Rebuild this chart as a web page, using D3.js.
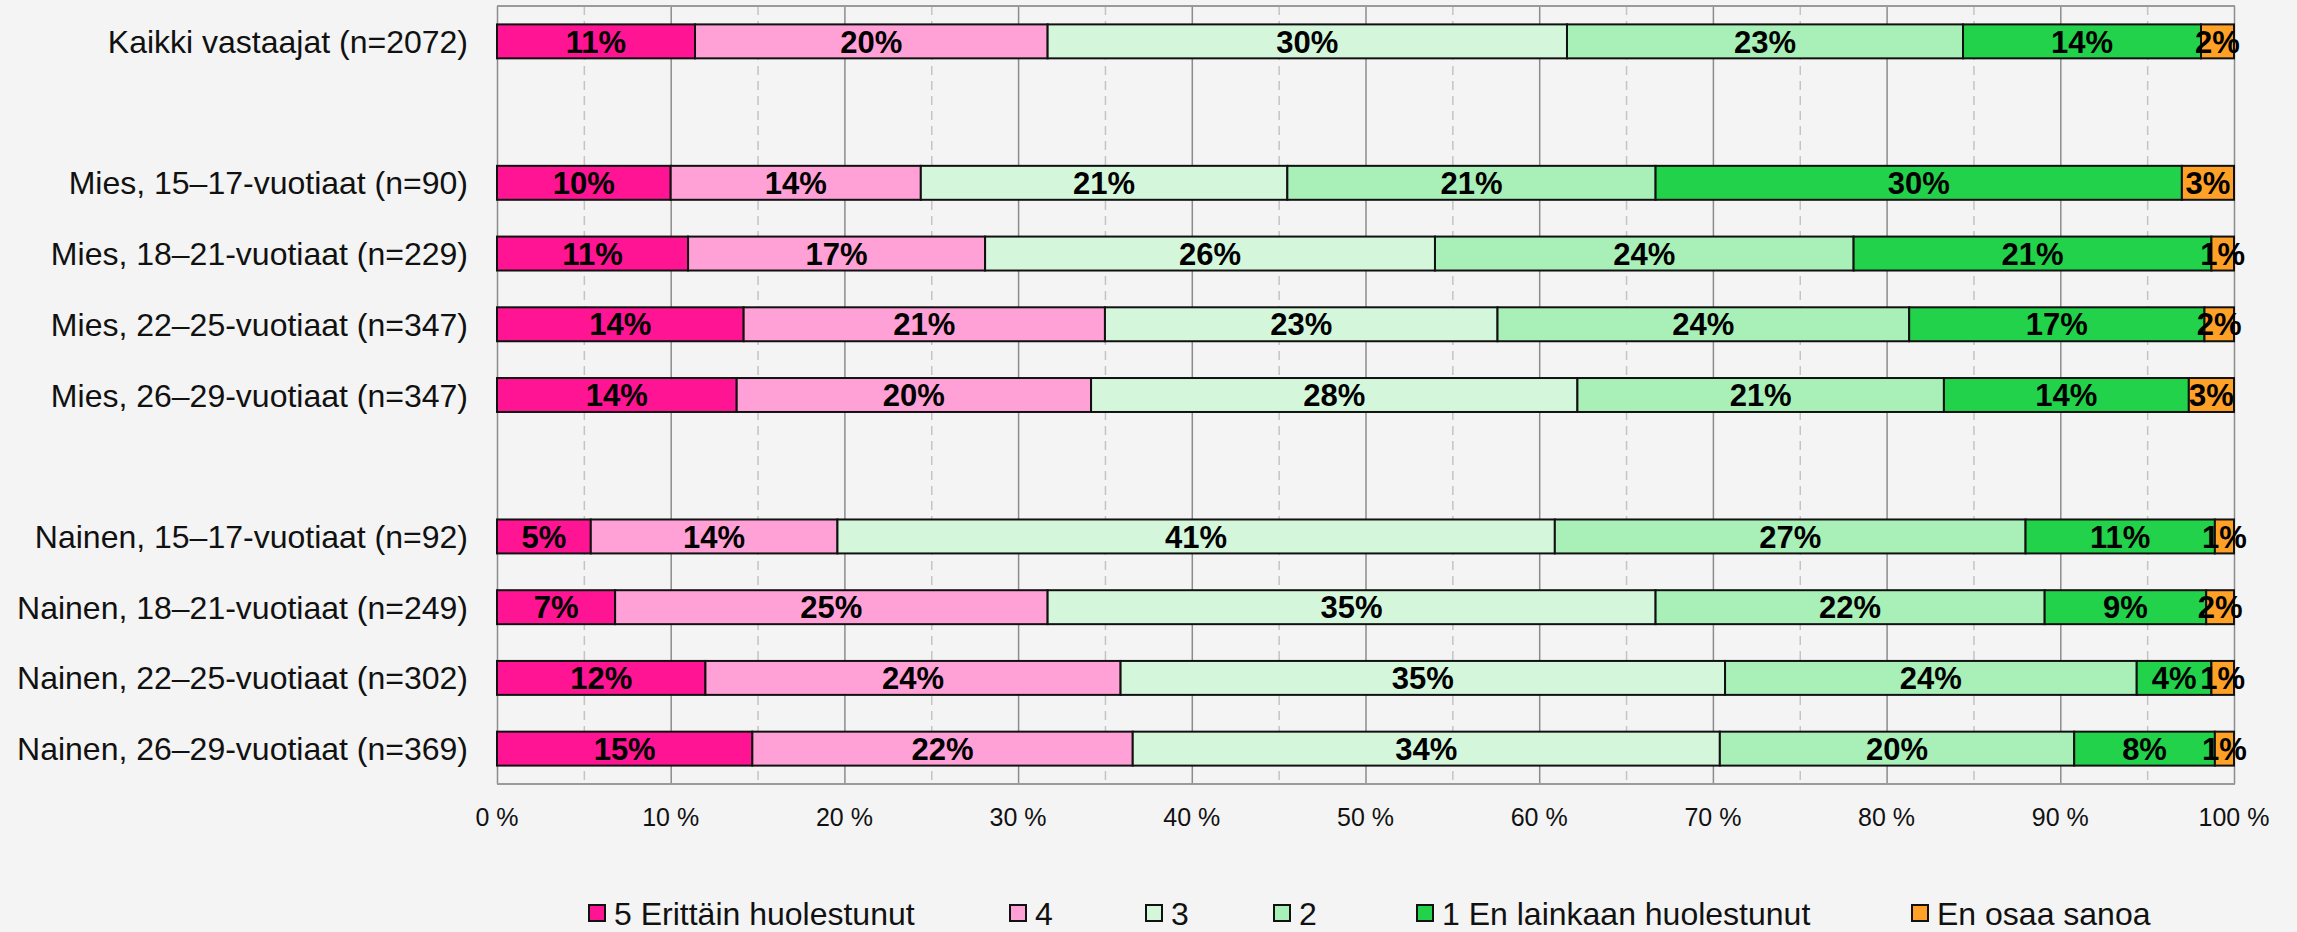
<!DOCTYPE html>
<html>
<head>
<meta charset="utf-8">
<style>
	html, body { margin: 0; padding: 0; background: #f4f4f4; }
	svg { display: block; }
	text { font-family: "Liberation Sans", Arial, sans-serif; }
</style>
</head>
<body>
<svg class="chart" width="2297" height="932"></svg>
<script src="https://d3js.org/d3.v7.min.js"></script>
<script>

// rows, top to bottom ('' = empty spacer row)
var groups = [
	'Kaikki vastaajat (n=2072)',
	'',
	'Mies, 15–17-vuotiaat (n=90)',
	'Mies, 18–21-vuotiaat (n=229)',
	'Mies, 22–25-vuotiaat (n=347)',
	'Mies, 26–29-vuotiaat (n=347)',
	' ',
	'Nainen, 15–17-vuotiaat (n=92)',
	'Nainen, 18–21-vuotiaat (n=249)',
	'Nainen, 22–25-vuotiaat (n=302)',
	'Nainen, 26–29-vuotiaat (n=369)'
]

var answers = ['5 Erittäin huolestunut', '4', '3', '2', '1 En lainkaan huolestunut', 'En osaa sanoa']
var colors = ['#ff1493', '#ffa0d6', '#d4f7dc', '#a8f0b8', '#22d24a', '#ffa126']

// shares (%) per answer, same order as answers
var kaikki    = [11.4, 20.3, 29.9, 22.8, 13.7, 1.9]
var mies1517  = [10.0, 14.4, 21.1, 21.2, 30.3, 3.0]
var mies1821  = [11.0, 17.1, 25.9, 24.1, 20.6, 1.3]
var mies2225  = [14.2, 20.8, 22.6, 23.7, 17.0, 1.7]
var mies2629  = [13.8, 20.4, 28.0, 21.1, 14.1, 2.6]
var nainen1517 = [5.4, 14.2, 41.3, 27.1, 10.9, 1.1]
var nainen1821 = [6.8, 24.9, 35.0, 22.4, 9.3, 1.6]
var nainen2225 = [12.0, 23.9, 34.8, 23.7, 4.3, 1.3]
var nainen2629 = [14.7, 21.9, 33.8, 20.4, 8.1, 1.1]

var xTicks = [0, 10, 20, 30, 40, 50, 60, 70, 80, 90, 100]

var rows = [
	{ group: groups[0], values: kaikki },
	{ group: groups[2], values: mies1517 },
	{ group: groups[3], values: mies1821 },
	{ group: groups[4], values: mies2225 },
	{ group: groups[5], values: mies2629 },
	{ group: groups[7], values: nainen1517 },
	{ group: groups[8], values: nainen1821 },
	{ group: groups[9], values: nainen2225 },
	{ group: groups[10], values: nainen2629 }
]

var cfg = {
	left: 497, right: 2234,
	top: 6, bottom: 784,
	fontSize: 32
}

var svg = d3.select('.chart')

var x = d3.scaleLinear().domain([0, 100]).range([cfg.left, cfg.right])
var y = d3.scaleBand().domain(groups).range([cfg.top, cfg.bottom]).paddingInner(0.52).paddingOuter(0.26)

// grid: dashed halves, solid tens
var halves = d3.range(5, 100, 10)
svg.append('g').selectAll('line').data(halves).enter().append('line')
	.attr('x1', function(d) { return x(d) + 0.5 }).attr('x2', function(d) { return x(d) + 0.5 })
	.attr('y1', cfg.top).attr('y2', cfg.bottom)
	.attr('stroke', '#c4c4c4').attr('stroke-width', 1.5).attr('stroke-dasharray', '9,6')
svg.append('g').selectAll('line').data(xTicks).enter().append('line')
	.attr('x1', function(d) { return x(d) + 0.5 }).attr('x2', function(d) { return x(d) + 0.5 })
	.attr('y1', cfg.top).attr('y2', cfg.bottom)
	.attr('stroke', '#8c8c8c').attr('stroke-width', 1.5)
// frame top and bottom
svg.append('line').attr('x1', cfg.left).attr('x2', cfg.right + 1).attr('y1', cfg.top).attr('y2', cfg.top)
	.attr('stroke', '#9a9a9a').attr('stroke-width', 2)
svg.append('line').attr('x1', cfg.left).attr('x2', cfg.right + 1).attr('y1', cfg.bottom).attr('y2', cfg.bottom)
	.attr('stroke', '#9a9a9a').attr('stroke-width', 2)

// x tick labels
svg.append('g').selectAll('text').data(xTicks).enter().append('text')
	.attr('x', function(d) { return x(d) }).attr('y', cfg.bottom + 42)
	.attr('text-anchor', 'middle').attr('font-size', 25).attr('fill', '#111')
	.text(function(d) { return d + ' %' })

// bars
var bars = svg.selectAll('.row').data(rows).enter().append('g').attr('class', 'row')

bars.each(function(r) {
	var g = d3.select(this)
	var acc = 0
	var segs = r.values.map(function(v, i) {
		var s = { start: acc, value: v, i: i }
		acc += v
		return s
	})
	g.selectAll('rect').data(segs).enter().append('rect')
		.attr('x', function(s) { return x(s.start) })
		.attr('y', y(r.group))
		.attr('width', function(s) { return x(s.start + s.value) - x(s.start) })
		.attr('height', y.bandwidth())
		.attr('fill', function(s) { return colors[s.i] })
		.attr('stroke', '#111').attr('stroke-width', 2)
	g.selectAll('text').data(segs).enter().append('text')
		.attr('x', function(s) { return x(s.start + s.value / 2) })
		.attr('y', y(r.group) + y.bandwidth() / 2)
		.attr('dy', '0.36em')
		.attr('text-anchor', 'middle')
		.attr('font-size', 31).attr('font-weight', 'bold').attr('fill', '#000')
		.text(function(s) { return Math.round(s.value) + '%' })
})

// category labels
svg.append('g').selectAll('text').data(rows).enter().append('text')
	.attr('x', cfg.left - 29)
	.attr('y', function(r) { return y(r.group) + y.bandwidth() / 2 })
	.attr('dy', '0.36em')
	.attr('text-anchor', 'end').attr('font-size', cfg.fontSize).attr('fill', '#111')
	.text(function(r) { return r.group })

// legend (kept a few px higher so the text stays inside the picture)
var legendX = [589, 1010, 1146, 1274, 1417, 1912]
var legend = svg.append('g').selectAll('g').data(answers).enter().append('g')
	.attr('transform', function(d, i) { return 'translate(' + legendX[i] + ',913)' })
legend.append('rect')
	.attr('x', 0).attr('y', -8).attr('width', 16).attr('height', 16)
	.attr('fill', function(d, i) { return colors[i] })
	.attr('stroke', '#111').attr('stroke-width', 2)
legend.append('text')
	.attr('x', 25).attr('dy', '0.36em')
	.attr('font-size', cfg.fontSize).attr('fill', '#111')
	.text(function(d) { return d })

</script>
</body>
</html>
